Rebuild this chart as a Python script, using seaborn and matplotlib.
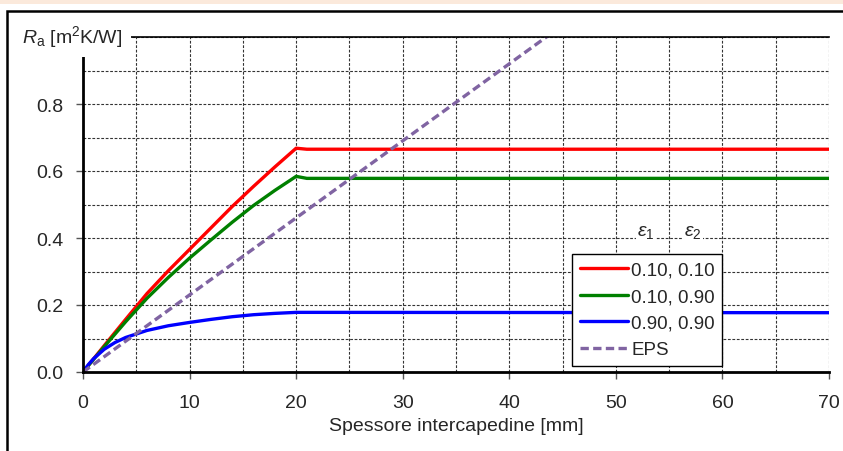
import pandas as pd
import matplotlib.pyplot as plt
import seaborn as sns
from matplotlib.patches import Rectangle
from matplotlib.ticker import MultipleLocator

# air gap thickness [mm] and thermal resistance Ra [m2K/W]
x_red = [0, 2, 4, 6, 8, 10, 12, 14, 16, 18, 20, 21, 70]
ra_red = [0, 0.079, 0.157, 0.234, 0.302, 0.366, 0.43, 0.494, 0.554, 0.612, 0.668, 0.665, 0.665]

x_green = [0, 2, 4, 6, 8, 10, 12, 14, 16, 18, 20, 21, 70]
ra_green = [0, 0.076, 0.15, 0.22, 0.282, 0.34, 0.394, 0.447, 0.497, 0.542, 0.584, 0.578, 0.578]

x_blue = [0, 0.5, 1, 2, 3, 4, 6, 8, 10, 12, 14, 16, 18, 20, 22, 70]
ra_blue = [0, 0.022, 0.04, 0.068, 0.088, 0.103, 0.124, 0.138, 0.148, 0.157, 0.165, 0.171, 0.175, 0.178, 0.178, 0.177]

x_eps = [0, 10, 20, 30, 40, 50]
ra_eps = [0, 0.23, 0.46, 0.69, 0.92, 1.15]

labels = ["0.10, 0.10", "0.10, 0.90", "0.90, 0.90", "EPS"]

sns.set_style("white")
plt.rcParams["font.family"] = ["Liberation Sans", "DejaVu Sans"]
plt.rcParams["mathtext.fontset"] = "custom"
plt.rcParams["mathtext.rm"] = "Liberation Sans"
plt.rcParams["mathtext.it"] = "Liberation Sans:italic"

fig = plt.figure(figsize=(8.43, 4.52), dpi=100)
# peach strip and outer frame like the source sheet
fig.patches.append(Rectangle((0, 0.99), 1, 0.01, transform=fig.transFigure,
                             facecolor="#fbe9db", edgecolor="none", zorder=0))
fig.patches.append(Rectangle((7 / 843, -0.05), 1.0, 0.05 + 440 / 452, transform=fig.transFigure,
                             facecolor="none", edgecolor="black", linewidth=1.8, zorder=0))

ax = fig.add_axes([83 / 843, 79 / 452, 746 / 843, 335 / 452])

lw = 2.4
sns.lineplot(x=x_red, y=ra_red, ax=ax, color="#ff0000", lw=lw, label=labels[0])
sns.lineplot(x=x_green, y=ra_green, ax=ax, color="#008000", lw=lw, label=labels[1])
sns.lineplot(x=x_blue, y=ra_blue, ax=ax, color="#0000ff", lw=lw, label=labels[2])
sns.lineplot(x=x_eps, y=ra_eps, ax=ax, color="#8064a2", lw=lw, linestyle=(0, (2.5, 1.3)),
             label=labels[3])

ax.set_xlim(0, 70)
ax.set_ylim(0, 1.0)
ax.xaxis.set_major_locator(MultipleLocator(10))
ax.xaxis.set_minor_locator(MultipleLocator(5))
ax.yaxis.set_minor_locator(MultipleLocator(0.1))
ax.set_yticks([0, 0.2, 0.4, 0.6, 0.8])
ax.set_yticklabels(["0.0", "0.2", "0.4", "0.6", "0.8"])
ax.grid(True, which="both", color="#333333", linestyle=(0, (2.5, 1.5)), linewidth=0.8)
ax.tick_params(axis="both", which="major", direction="out", length=5, width=1,
               color="#555555", labelsize=14, left=True, bottom=True)
ax.tick_params(axis="x", which="major", pad=11)
ax.tick_params(axis="y", which="major", pad=9)
ax.tick_params(axis="both", which="minor", length=0)

for side in ["left", "bottom"]:
    ax.spines[side].set_linewidth(2)
    ax.spines[side].set_color("black")
ax.spines["top"].set_linewidth(1.2)
ax.spines["top"].set_color("black")
ax.spines["right"].set_visible(False)

ax.set_xlabel("Spessore intercapedine [mm]", fontsize=14, labelpad=4)
ax.set_ylabel("")
fig.text(22 / 843, 1 - 37 / 452, r"$R_{\mathrm{a}}$ [m$^2$K/W]", fontsize=14,
         ha="left", va="center",
         bbox=dict(facecolor="white", edgecolor="none", pad=6))

leg = ax.legend(loc="lower left", bbox_to_anchor=(0.6555, 0.018), fontsize=13.5,
                frameon=True, fancybox=False, edgecolor="black", framealpha=1,
                handlelength=2.6, handletextpad=0.15, labelspacing=0.5,
                borderpad=0.4, borderaxespad=0)
leg.get_frame().set_linewidth(1)

ax.text(52.8, 0.42, r"$\varepsilon_1$", fontsize=14, ha="center", va="center",
        bbox=dict(facecolor="white", edgecolor="none", pad=1))
ax.text(57.2, 0.42, r"$\varepsilon_2$", fontsize=14, ha="center", va="center",
        bbox=dict(facecolor="white", edgecolor="none", pad=1))

fig.savefig("out.png", dpi=100)
